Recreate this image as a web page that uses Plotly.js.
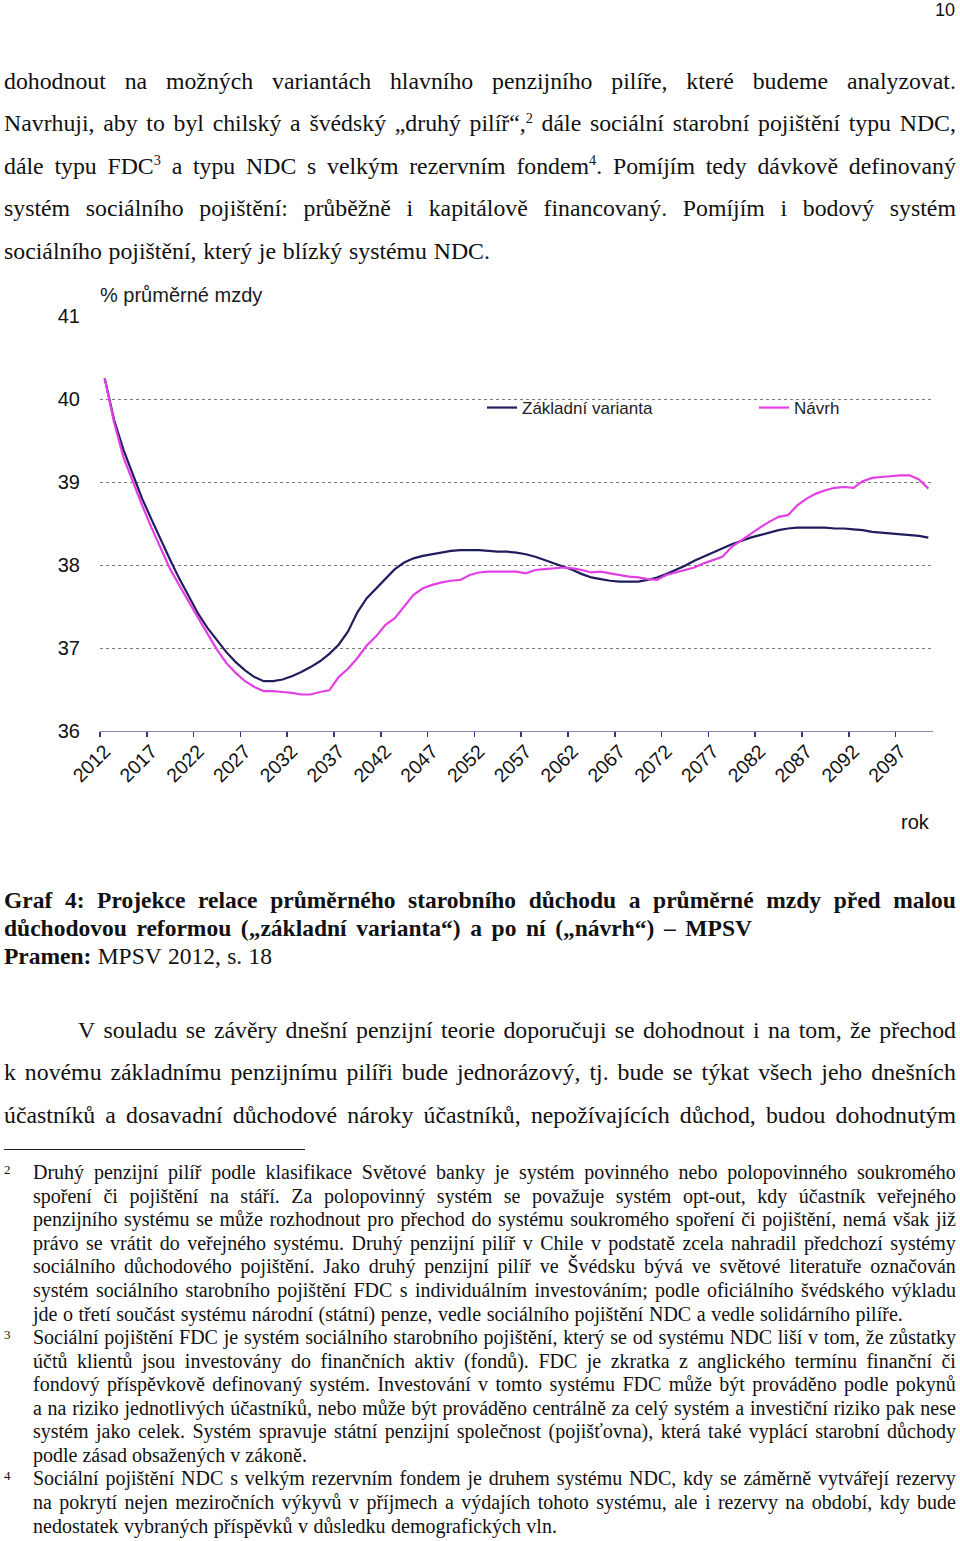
<!DOCTYPE html>
<html lang="cs">
<head>
<meta charset="utf-8">
<script src="https://cdn.plot.ly/plotly-3.0.1.min.js"></script>
<style>
html,body{margin:0;padding:0;background:#fff;}
body{width:960px;height:1541px;position:relative;overflow:hidden;font-family:"Liberation Serif","Times New Roman",serif;color:#111;}
.ln{position:absolute;display:flex;justify-content:space-between;align-items:baseline;white-space:nowrap;line-height:1;}
.ln span{display:block;}
sup{font-size:60%;vertical-align:baseline;position:relative;top:-0.6em;line-height:0;}
.fnum{position:absolute;font-size:13px;line-height:1;}
#pg{position:absolute;right:5px;top:1px;font-family:"Liberation Sans",Arial,sans-serif;font-size:18px;line-height:1;color:#111;}
#rule{position:absolute;left:4px;top:1149px;width:301px;height:1px;background:#222;}
#chart{position:absolute;left:0;top:280px;width:960px;height:570px;}
</style>
</head>
<body>
<div id="pg">10</div>
<div id="rule"></div>
<div id="chart"></div>
<script>
// ---------- chart data ----------
const years = [2012,2013,2014,2015,2016,2017,2018,2019,2020,2021,2022,2023,2024,2025,2026,2027,2028,2029,2030,
2031,2032,2033,2034,2035,2036,2037,2038,2039,2040,2041,2042,2043,2044,2045,2046,2047,2048,2049,2050,
2051,2052,2053,2054,2055,2056,2057,2058,2059,2060,2061,2062,2063,2064,2065,2066,2067,2068,2069,2070,
2071,2072,2073,2074,2075,2076,2077,2078,2079,2080,2081,2082,2083,2084,2085,2086,2087,2088,2089,2090,
2091,2092,2093,2094,2095,2096,2097,2098,2099,2100];

const zakladniVarianta = [40.25,39.75,39.39,39.10,38.80,38.55,38.30,38.06,37.83,37.62,37.41,37.24,37.10,36.95,36.83,36.73,36.65,36.60,36.60,
36.62,36.66,36.71,36.77,36.84,36.93,37.04,37.20,37.43,37.60,37.72,37.84,37.95,38.03,38.08,38.11,38.13,38.15,38.17,38.18,
38.18,38.18,38.17,38.16,38.16,38.15,38.13,38.10,38.06,38.02,37.98,37.94,37.89,37.85,37.83,37.81,37.80,37.80,37.80,37.82,
37.85,37.89,37.94,37.99,38.05,38.10,38.15,38.20,38.25,38.29,38.33,38.36,38.39,38.42,38.44,38.45,38.45,38.45,38.45,38.44,
38.44,38.43,38.42,38.40,38.39,38.38,38.37,38.36,38.35,38.33];

const navrh = [40.25,39.72,39.30,39.00,38.72,38.45,38.20,37.95,37.75,37.55,37.36,37.17,36.98,36.82,36.70,36.60,36.53,36.48,36.48,
36.47,36.46,36.44,36.44,36.47,36.49,36.65,36.75,36.88,37.03,37.14,37.28,37.36,37.50,37.64,37.72,37.76,37.79,37.81,37.82,
37.88,37.91,37.92,37.92,37.92,37.92,37.90,37.94,37.95,37.96,37.97,37.96,37.94,37.91,37.92,37.90,37.88,37.86,37.85,37.83,
37.82,37.88,37.91,37.94,37.97,38.02,38.06,38.10,38.22,38.30,38.38,38.45,38.52,38.58,38.60,38.72,38.80,38.86,38.90,38.93,
38.94,38.93,39.01,39.05,39.06,39.07,39.08,39.08,39.03,38.92];

const seriesNames = ['Základní varianta', 'Návrh'];
const tickYears = [2012,2017,2022,2027,2032,2037,2042,2047,2052,2057,2062,2067,2072,2077,2082,2087,2092,2097];
const yTicks = [36,37,38,39,40,41];
const yTitle = '% průměrné mzdy';
const xTitle = 'rok';

// ---------- page text ----------
const bodyLines = [
 'dohodnout na možných variantách hlavního penzijního pilíře, které budeme analyzovat.',
 'Navrhuji, aby to byl chilský a švédský „druhý pilíř“,<sup>2</sup> dále sociální starobní pojištění typu NDC,',
 'dále typu FDC<sup>3</sup> a typu NDC s velkým rezervním fondem<sup>4</sup>. Pomíjím tedy dávkově definovaný',
 'systém sociálního pojištění: průběžně i kapitálově financovaný. Pomíjím i bodový systém',
 'sociálního pojištění, který je blízký systému NDC.'
];
const captionLines = [
 '<b>Graf</b> <b>4:</b> <b>Projekce</b> <b>relace</b> <b>průměrného</b> <b>starobního</b> <b>důchodu</b> <b>a</b> <b>průměrné</b> <b>mzdy</b> <b>před</b> <b>malou</b>',
 '<b>důchodovou</b> <b>reformou</b> <b>(„základní</b> <b>varianta“)</b> <b>a</b> <b>po</b> <b>ní</b> <b>(„návrh“)</b> <b>–</b> <b>MPSV</b>',
 '<b>Pramen:</b> MPSV 2012, s. 18'
];
const para2Lines = [
 'V souladu se závěry dnešní penzijní teorie doporučuji se dohodnout i na tom, že přechod',
 'k novému základnímu penzijnímu pilíři bude jednorázový, tj. bude se týkat všech jeho dnešních',
 'účastníků a dosavadní důchodové nároky účastníků, nepožívajících důchod, budou dohodnutým'
];
const footLines = [
 'Druhý penzijní pilíř podle klasifikace Světové banky je systém povinného nebo polopovinného soukromého',
 'spoření či pojištění na stáří. Za polopovinný systém se považuje systém opt-out, kdy účastník veřejného',
 'penzijního systému se může rozhodnout pro přechod do systému soukromého spoření či pojištění, nemá však již',
 'právo se vrátit do veřejného systému. Druhý penzijní pilíř v Chile v podstatě zcela nahradil předchozí systémy',
 'sociálního důchodového pojištění. Jako druhý penzijní pilíř ve Švédsku bývá ve světové literatuře označován',
 'systém sociálního starobního pojištění FDC s individuálním investováním; podle oficiálního švédského výkladu',
 'jde o třetí součást systému národní (státní) penze, vedle sociálního pojištění NDC a vedle solidárního pilíře.',
 'Sociální pojištění FDC je systém sociálního starobního pojištění, který se od systému NDC liší v tom, že zůstatky',
 'účtů klientů jsou investovány do finančních aktiv (fondů). FDC je zkratka z anglického termínu finanční či',
 'fondový příspěvkově definovaný systém. Investování v tomto systému FDC může být prováděno podle pokynů',
 'a na riziko jednotlivých účastníků, nebo může být prováděno centrálně za celý systém a investiční riziko pak nese',
 'systém jako celek. Systém spravuje státní penzijní společnost (pojišťovna), která také vyplácí starobní důchody',
 'podle zásad obsažených v zákoně.',
 'Sociální pojištění NDC s velkým rezervním fondem je druhem systému NDC, kdy se záměrně vytvářejí rezervy',
 'na pokrytí nejen meziročních výkyvů v příjmech a výdajích tohoto systému, ale i rezervy na období, kdy bude',
 'nedostatek vybraných příspěvků v důsledku demografických vln.'
];
const footNums = [['2',0],['3',7],['4',13]];

function addLine(html, left, right, baseline, size) {
  const d = document.createElement('div');
  d.className = 'ln';
  d.style.left = left + 'px';
  d.style.width = (right - left) + 'px';
  d.style.fontSize = size + 'px';
  d.style.top = (baseline - 0.8375 * size) + 'px';
  d.style.columnGap = (0.12 * size) + 'px';
  html.split(' ').forEach(w => {
    const s = document.createElement('span');
    s.innerHTML = w;
    d.appendChild(s);
  });
  document.body.appendChild(d);
  let ls = 0;
  while (d.scrollWidth > d.clientWidth + 1 && ls > -1.2) {
    ls -= 0.1;
    d.style.letterSpacing = ls + 'px';
  }
}

const bodyRight = [956,956,956,956,490];
bodyLines.forEach((t,i) => addLine(t, 4, bodyRight[i], 89.5 + 42.5*i, 23.8));
const capRight = [956,752,272];
captionLines.forEach((t,i) => addLine(t, 4, capRight[i], 908.5 + 28*i, 23.5));
const p2Left = [78,4,4];
para2Lines.forEach((t,i) => addLine(t, p2Left[i], 956, 1038.5 + 42.5*i, 23.8));
const footRight = [956,956,956,956,956,956,903,956,956,956,956,956,307,956,956,557];
footLines.forEach((t,i) => addLine(t, 33, footRight[i], 1179 + 23.55*i, 20));
footNums.forEach(([n,i]) => {
  const s = document.createElement('div');
  s.className = 'fnum';
  s.textContent = n;
  s.style.left = '4px';
  s.style.top = (1179 + 23.55*i - 5 - 0.8375*13) + 'px';
  document.body.appendChild(s);
});

// ---------- chart ----------
const sans = '"Liberation Sans", Arial, sans-serif';
const traces = [
  {x: years, y: zakladniVarianta, name: seriesNames[0], type: 'scatter', mode: 'lines',
   line: {color: '#201d5e', width: 2.2}, legend: 'legend'},
  {x: years, y: navrh, name: seriesNames[1], type: 'scatter', mode: 'lines',
   line: {color: '#e43fe4', width: 2.2}, legend: 'legend2'}
];
const legendBase = {orientation: 'h', xanchor: 'left', y: (731-408)/415, yanchor: 'middle',
  font: {family: sans, size: 17, color: '#222'}, bgcolor: 'rgba(0,0,0,0)', borderwidth: 0, itemwidth: 30};
const layout = {
  width: 960, height: 570,
  margin: {l: 100, r: 27, t: 36, b: 119, pad: 0, autoexpand: false},
  paper_bgcolor: '#ffffff', plot_bgcolor: '#ffffff',
  font: {family: sans, size: 20, color: '#111'},
  title: {text: yTitle, font: {family: sans, size: 20, color: '#1a1a1a'},
          xref: 'paper', x: 0, xanchor: 'left', yref: 'container', y: 1 - 15/570, yanchor: 'middle', pad: {l: 0, t: 0, b: 0, r: 0}},
  xaxis: {
    range: [2011.5, 2100.5], tickmode: 'array', tickvals: tickYears, ticktext: tickYears.map(String),
    tickangle: -45, ticks: '', showgrid: false, zeroline: false, showline: true,
    linecolor: '#8686b6', linewidth: 1.3, tickfont: {family: sans, size: 19.5, color: '#111'},
    fixedrange: true, automargin: false,
    minor: {tickmode: 'array', tickvals: tickYears.map(v => v - 0.5), ticks: 'outside', ticklen: 5,
            tickcolor: '#35357a', tickwidth: 1.5, showgrid: false}
  },
  yaxis: {
    range: [36, 41], tickmode: 'array', tickvals: yTicks, ticktext: yTicks.map(String),
    showgrid: true, gridcolor: '#7a7a7a', griddash: 'dot', gridwidth: 1,
    zeroline: false, showline: false, ticks: '', ticklabelstandoff: 19,
    tickfont: {family: sans, size: 20, color: '#111'}, fixedrange: true, automargin: false
  },
  showlegend: true,
  legend: Object.assign({}, legendBase, {x: (482-100)/833}),
  legend2: Object.assign({}, legendBase, {x: (754-100)/833}),
  annotations: [{text: xTitle, xref: 'paper', yref: 'paper', x: (932-100)/833, xanchor: 'right',
                 y: (731-822)/415, yanchor: 'middle', showarrow: false,
                 font: {family: sans, size: 20, color: '#111'}}]
};
Plotly.newPlot('chart', traces, layout, {staticPlot: true, displayModeBar: false});
</script>
</body>
</html>
